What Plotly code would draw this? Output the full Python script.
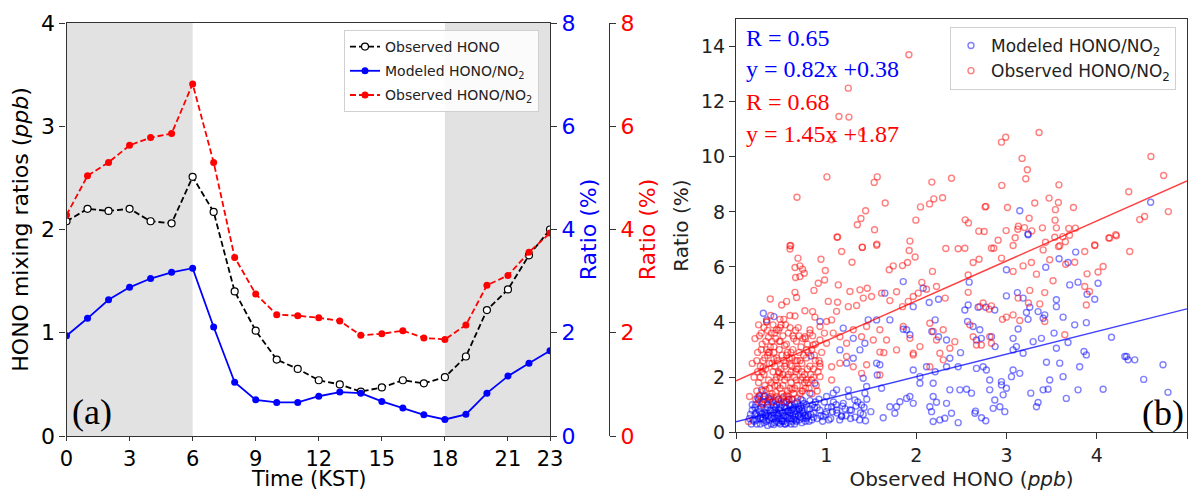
import plotly.graph_objects as go

# ---------------- Panel (a) data ----------------
hours = list(range(24))
obs_hono = [2.08, 2.20, 2.18, 2.20, 2.08, 2.06, 2.51, 2.17, 1.40, 1.02, 0.74, 0.65,
            0.54, 0.50, 0.43, 0.47, 0.54, 0.51, 0.57, 0.77, 1.22, 1.42, 1.75, 2.00]
mod_ratio = [1.94, 2.28, 2.64, 2.88, 3.05, 3.17, 3.25, 2.11, 1.04, 0.70, 0.65, 0.65,
             0.77, 0.85, 0.83, 0.67, 0.54, 0.41, 0.32, 0.42, 0.83, 1.16, 1.41, 1.65]
obs_ratio = [4.28, 5.04, 5.30, 5.63, 5.78, 5.86, 6.82, 5.30, 3.46, 2.75, 2.35, 2.33,
             2.29, 2.23, 1.95, 1.98, 2.04, 1.90, 1.87, 2.15, 2.92, 3.11, 3.56, 3.93]
night_spans = [(0, 6), (18, 23)]
x_ticks_a = [0, 3, 6, 9, 12, 15, 18, 21, 23]

# ---------------- Panel (b) data ----------------
red_x = [1.917, 1.245, 1.141, 1.252, 1.392, 1.06, 3.36, 2.943, 2.99, 3.172, 4.6, 3.23, 1.008, 1.566,
         1.532, 2.171, 2.389, 2.947, 3.213, 3.58, 4.741, 0.676, 1.654, 2.146, 2.193, 2.29, 3.471,
         3.574, 4.354, 1.437, 2.045, 2.762, 2.77, 3.01, 3.312, 3.541, 3.741, 4.793, 1.385, 1.345,
         1.994, 2.541, 2.577, 3.25, 3.537, 4.476, 4.53, 1.536, 2.692, 2.751, 2.995, 3.124, 3.13,
         3.198, 3.279, 3.397, 3.552, 3.689, 3.763, 3.623, 3.697, 4.133, 4.21, 3.651, 1.126, 2.906,
         3.095, 3.431, 3.978, 0.606, 1.4, 1.562, 1.928, 2.537, 2.858, 3.575,
         0.598, 0.598, 0.687, 0.654, 0.709, 0.738, 0.757, 0.661, 0.709, 0.942, 0.99, 0.982, 0.912,
         0.864, 0.654, 0.672, 0.38, 0.506, 0.561, 0.34, 0.384, 0.487, 0.487, 0.45, 0.598, 0.654,
         0.764, 0.849, 0.875, 1.126, 1.115, 1.171, 1.12, 1.286, 1.4, 1.559, 1.699, 1.743, 1.846,
         1.92, 1.902, 1.986, 2.06, 2.178, 2.326, 2.463, 2.574, 2.629, 2.695, 2.832, 2.943, 3.072,
         3.072, 3.183, 3.275, 3.331, 3.405, 3.478, 3.534, 3.589, 3.655, 3.755, 3.866, 3.977, 4.07,
         4.014, 3.892, 4.365, 4.217, 4.143, 3.515, 3.423, 3.257, 3.128, 3.242, 3.368, 3.423, 3.146,
         3.072, 2.998, 2.954, 3.866, 3.884, 3.92, 3.645, 2.574, 2.592, 2.74, 2.832, 2.806, 2.703,
         2.319, 2.223, 2.112, 2.02, 1.965, 1.91, 1.846, 1.78, 1.706, 1.614, 1.503, 1.455, 1.374,
         1.411, 1.337, 1.263, 1.245, 1.134, 1.023, 1.06, 1.004, 0.931, 0.82, 0.764, 0.857, 0.783,
         0.931, 1.004, 1.078, 1.152, 1.226, 1.3, 1.392, 1.448, 1.522, 1.595, 1.669, 1.78, 1.854,
         1.928, 1.965, 2.039, 2.149, 2.186, 2.223, 2.26, 2.297, 2.371, 2.426, 2.629, 2.666, 2.72,
         2.813, 2.832, 1.595, 1.639, 1.448, 1.392, 1.3, 1.226, 1.152, 1.06, 1.06, 0.931, 0.931,
         0.838, 1.595, 2.149, 2.297, 1.965,
         0.22, 0.25, 0.27, 0.28, 0.30, 0.31, 0.32, 0.33, 0.35, 0.36, 0.37, 0.38, 0.39, 0.40, 0.41,
         0.42, 0.43, 0.44, 0.45, 0.46, 0.47, 0.48, 0.49, 0.50, 0.51, 0.52, 0.53, 0.54, 0.55, 0.56,
         0.57, 0.58, 0.59, 0.60, 0.61, 0.62, 0.63, 0.64, 0.65, 0.66, 0.67, 0.68, 0.69, 0.70, 0.72,
         0.73, 0.74, 0.76, 0.78, 0.80, 0.82, 0.84, 0.86, 0.88, 0.24, 0.26, 0.29, 0.34, 0.41, 0.47,
         0.53, 0.58, 0.29, 0.35, 0.45, 0.55, 0.63, 0.71, 0.77, 0.20, 0.23, 0.37, 0.43, 0.49, 0.57,
         0.61, 0.67, 0.73, 0.79, 0.85, 0.31, 0.52, 0.40, 0.66, 0.91, 0.95, 0.98, 0.15, 0.18, 0.137,
         0.26, 0.33, 0.39, 0.44, 0.50, 0.56, 0.62, 0.68, 0.74, 0.30, 0.36, 0.42, 0.48, 0.54, 0.60,
         0.21, 0.23, 0.25, 0.27, 0.29, 0.31, 0.33, 0.35, 0.37, 0.39, 0.41, 0.43, 0.45, 0.47, 0.49,
         0.51, 0.53, 0.55, 0.57, 0.59, 0.61, 0.63, 0.65, 0.67, 0.69, 0.71, 0.73, 0.75, 0.77, 0.79,
         0.81, 0.83, 0.87, 0.89, 0.93,
         0.24, 0.28, 0.32, 0.36, 0.40, 0.44, 0.48, 0.52, 0.56, 0.60, 0.64, 0.68, 0.72, 0.76, 0.80,
         0.84, 0.88, 0.92, 0.26, 0.30, 0.34, 0.38, 0.42, 0.46, 0.50, 0.54, 0.58, 0.62, 0.66, 0.70,
         0.74, 0.78, 0.82, 0.86, 0.90]
red_y = [13.70, 12.49, 11.46, 11.44, 10.86, 10.62, 10.88, 10.53, 10.71, 9.94, 10.01, 9.53, 9.27, 9.27,
         9.07, 9.08, 9.22, 8.96, 9.2, 8.98, 9.32, 8.53, 8.32, 8.29, 8.47, 8.51, 8.5,
         8.34, 8.73, 8.04, 8.18, 8.18, 8.2, 8.16, 8.32, 8.08, 8.16, 8.01, 7.76, 7.53,
         7.70, 7.71, 7.6, 7.77, 7.7, 7.72, 7.83, 7.35, 7.3, 7.29, 7.32, 7.37, 7.48,
         7.43, 7.31, 7.42, 7.42, 7.4, 7.41, 7.1, 7.15, 7.05, 7.17, 6.92, 7.09, 6.97,
         7.06, 6.9, 6.78, 6.78, 6.72, 6.83, 6.94, 6.68, 6.68, 6.74,
         6.77, 6.65, 6.32, 5.98, 6.04, 5.92, 5.77, 5.62, 5.65, 6.28, 5.87, 5.53, 5.41,
         5.15, 5.08, 4.89, 4.84, 4.62, 4.75, 4.02, 4.24, 4.1, 3.80, 3.72, 4.24, 4.22,
         4.41, 4.38, 4.18, 4.72, 4.39, 6.56, 7.08, 6.17, 6.71, 6.79, 5.9, 6.04, 6.05,
         6.6, 6.16, 6.36, 5.44, 5.84, 6.67, 6.66, 5.71, 6.16, 6.28, 6.68, 6.32, 6.78,
         5.84, 6.04, 6.16, 5.74, 6.62, 6.26, 7.08, 6.77, 6.10, 6.17, 6.56, 6.8, 6.02,
         5.82, 5.75, 6.56, 7.13, 7.05, 5.5, 5.07, 5.15, 4.87, 4.69, 4.66, 4.02, 4.06,
         4.26, 4.18, 4.10, 5.29, 4.62, 5.11, 3.54, 5.08, 3.9, 4.69, 4.59, 4.47, 4.56,
         4.87, 5.29, 5.19, 5.05, 4.93, 4.75, 4.56, 5.1, 4.78, 5.05, 4.93, 5.23, 5.17,
         4.87, 4.6, 5.11, 4.56, 5.35, 4.75, 4.08, 4.02, 3.84, 3.72, 3.47, 3.17, 2.99,
         3.35, 3.23, 3.6, 3.47, 3.23, 3.72, 3.47, 3.84, 3.35, 3.72, 3.35, 2.99, 3.84,
         3.41, 2.87, 3.11, 3.96, 3.66, 3.35, 2.87, 3.72, 3.05, 3.29, 3.47, 3.17, 3.17,
         3.47, 3.23, 2.91, 2.89, 2.45, 2.14, 2.38, 2.75, 2.51, 2.38, 1.9, 2.38, 2.02,
         1.9, 2.08, 2.38, 2.63, 2.81,
         1.2, 1.8, 2.4, 3.0, 1.5, 2.1, 2.7, 3.3, 1.1, 1.9, 2.5, 3.1, 3.6, 1.4, 2.2,
         2.9, 1.7, 3.4, 2.0, 2.6, 1.2, 3.0, 1.6, 2.3, 2.8, 3.5, 1.3, 1.9, 2.5, 3.2,
         1.5, 2.1, 2.7, 3.8, 1.8, 2.4, 3.0, 1.4, 2.0, 2.6, 3.3, 1.7, 2.3, 2.9, 1.9,
         2.5, 3.4, 2.1, 2.7, 1.8, 2.4, 3.0, 2.0, 2.6, 2.9, 3.5, 1.0, 4.0, 3.9, 3.7,
         4.1, 3.6, 2.2, 2.8, 1.3, 1.1, 1.2, 1.4, 1.6, 2.0, 2.6, 1.6, 2.4, 2.0, 2.9,
         2.2, 1.9, 2.2, 3.2, 3.5, 3.8, 1.7, 3.3, 3.7, 2.2, 2.9, 3.6, 1.3, 2.5, 0.39,
         1.35, 1.55, 1.25, 1.45, 1.15, 1.35, 1.55, 1.25, 1.5, 2.35, 3.45, 2.65, 2.15, 3.15, 2.45,
         3.4, 1.5, 3.9, 2.0, 3.2, 1.2, 2.3, 3.7, 2.9, 1.8, 1.1, 3.6, 2.7, 2.2, 3.3,
         1.4, 2.6, 3.9, 2.0, 1.2, 2.9, 3.5, 1.6, 2.3, 3.8, 2.6, 1.5, 2.8, 3.4, 2.3,
         1.6, 2.1, 2.8, 1.7, 2.5,
         2.2, 3.6, 1.7, 2.9, 2.5, 1.9, 3.3, 2.1, 2.8, 1.6, 3.4, 2.6, 3.1, 1.8, 2.9,
         1.4, 3.2, 2.6, 1.1, 2.6, 3.0, 1.3, 3.1, 1.7, 3.9, 2.4, 1.3, 2.7, 2.2, 3.5,
         2.0, 1.9, 3.6, 2.3, 1.5]

blue_x = [3.146, 3.238, 4.597, 3.238, 3.766, 3.681, 3.434, 3.582, 3.7, 4.014, 3.892, 3.977, 3.792,
          2.585, 2.998, 2.998, 3.12, 3.183, 3.257, 3.22, 3.238, 3.349, 3.405, 3.423, 3.552, 3.552,
          3.626, 3.128, 3.072, 3.109, 3.072, 3.183, 3.294, 3.386, 3.442, 3.526, 3.552, 3.589, 3.681,
          3.755, 3.81, 3.884, 3.858, 3.884, 3.792, 3.662, 3.626, 3.478, 3.405, 3.46, 3.349, 3.331,
          3.268, 3.146, 3.072, 3.054, 4.07, 4.163, 4.311, 4.347, 4.421, 4.52, 4.734, 4.789, 4.33,
          2.998, 2.943, 2.943, 2.962, 2.925, 2.98, 2.869, 2.851, 2.813, 2.813, 2.776, 2.74, 2.873,
          2.832, 2.72, 2.666, 2.629, 2.567, 2.537, 2.574, 2.684, 2.769, 2.869, 2.703, 2.489, 2.334,
          2.371, 2.245, 2.171, 2.208, 2.245, 2.142, 2.075, 1.965, 1.891, 1.928, 1.854, 1.854, 1.65,
          1.706, 1.559, 1.965, 2.039, 2.112, 2.208, 2.334, 2.463, 2.666, 2.482, 2.556, 2.611, 2.371,
          2.186, 2.334, 2.389, 2.186, 2.223, 2.149, 2.168, 2.039, 1.928, 1.891, 1.965, 1.817, 1.78,
          1.706, 1.761, 1.614, 1.632, 1.566, 1.595, 1.559, 2.186, 2.26, 2.315, 2.463, 2.648, 2.722,
          2.769, 2.655, 1.495, 1.436, 1.41, 1.448, 1.429, 1.392, 1.318, 1.263, 1.245, 1.189, 1.171,
          1.115, 1.06, 1.004, 0.968, 1.004, 1.078, 1.115, 1.226, 1.152, 1.3, 1.374, 1.429, 1.466,
          1.3, 1.189, 0.931, 0.83, 0.875, 0.82, 0.303, 0.34, 0.421, 0.284, 0.321,
          0.15, 0.18, 0.20, 0.22, 0.24, 0.25, 0.27, 0.28, 0.30, 0.31, 0.32, 0.34, 0.35, 0.36, 0.38,
          0.39, 0.40, 0.41, 0.42, 0.44, 0.45, 0.46, 0.47, 0.48, 0.49, 0.50, 0.51, 0.52, 0.53, 0.54,
          0.55, 0.56, 0.57, 0.58, 0.59, 0.60, 0.61, 0.62, 0.63, 0.64, 0.65, 0.66, 0.67, 0.68, 0.70,
          0.71, 0.72, 0.74, 0.75, 0.77, 0.78, 0.80, 0.82, 0.84, 0.86, 0.88, 0.90, 0.93, 0.96, 0.99,
          0.26, 0.29, 0.33, 0.37, 0.43, 0.47, 0.53, 0.57, 0.61, 0.65, 0.69, 0.73, 0.79, 0.30, 0.44,
          0.52, 0.62, 0.74, 0.85, 0.92, 1.02, 1.05, 1.08, 1.12, 1.15, 1.18, 1.22, 1.25, 1.28, 1.32,
          1.35, 1.38, 1.42, 1.45, 0.17, 0.21, 0.23, 0.35, 0.42, 0.55, 0.48,
          0.27, 0.33, 0.38, 0.45, 0.51, 0.58, 0.64, 0.70, 0.76, 0.43, 0.56, 0.66,
          0.16, 0.19, 0.21, 0.23, 0.25, 0.27, 0.29, 0.31, 0.33, 0.35, 0.37, 0.39, 0.41, 0.43, 0.45,
          0.47, 0.49, 0.51, 0.53, 0.55, 0.57, 0.59, 0.61, 0.63, 0.65, 0.67, 0.69, 0.71, 0.73, 0.75,
          0.77, 0.79, 0.81, 0.83, 0.87,
          0.18, 0.22, 0.26, 0.30, 0.34, 0.38, 0.42, 0.46, 0.50, 0.54, 0.58, 0.62, 0.66, 0.70, 0.74,
          0.78, 0.82, 0.86, 0.90, 0.94, 0.98, 1.03, 1.07, 1.11, 1.17, 1.21, 1.27, 1.33, 1.37, 1.41,
          0.24, 0.36, 0.48, 0.60, 0.72]
blue_y = [8.04, 7.17, 8.35, 7.2, 6.54, 6.16, 5.99, 6.3, 5.35, 5.41, 5.01, 4.83, 5.45,
          5.45, 5.9, 4.95, 5.07, 4.87, 4.54, 4.35, 4.1, 4.38, 4.14, 4.26, 4.81, 4.56,
          4.18, 3.75, 3.41, 3.11, 2.99, 2.87, 3.29, 3.41, 2.54, 3.6, 3.05, 2.51, 3.26,
          3.9, 2.38, 3.98, 2.93, 2.81, 1.54, 1.23, 2.02, 1.9, 1.54, 1.56, 1.08, 0.93,
          1.42, 2.14, 2.26, 2.02, 1.56, 3.45, 2.75, 2.63, 2.63, 1.92, 2.45, 1.45, 2.75,
          1.6, 1.84, 1.72, 1.36, 0.93, 0.75, 1.17, 0.87, 1.9, 1.54, 2.26, 2.38, 3.11,
          3.47, 3.41, 3.35, 3.84, 4.02, 4.44, 4.62, 4.54, 4.54, 4.44, 3.72, 2.89, 3.35,
          2.69, 3.47, 3.66, 4.08, 4.83, 4.71, 5.23, 4.56, 3.72, 3.54, 3.74, 5.47, 5.05,
          4.08, 4.08, 2.26, 2.02, 2.38, 2.2, 2.38, 2.38, 2.32, 1.54, 1.56, 1.42, 1.54,
          1.78, 1.05, 0.69, 1.3, 1.09, 0.93, 0.75, 1.78, 1.3, 1.23, 1.05, 1.11, 0.93,
          0.93, 0.69, 1.6, 0.53, 2.08, 2.45, 2.51, 0.39, 0.45, 0.51, 0.35, 0.69, 0.53,
          0.42, 0.77, 0.75, 0.42, 1.96, 1.66, 1.42, 0.99, 1.17, 0.81, 1.54, 1.05, 0.57,
          0.81, 0.93, 0.75, 0.57, 1.3, 1.42, 1.54, 2.51, 2.99, 2.69, 2.99, 3.23, 4.08,
          3.41, 3.78, 4.02, 2.77, 1.78, 1.42, 4.32, 4.08, 4.2, 1.54, 1.32,
          0.5, 0.8, 0.4, 1.0, 0.6, 1.2, 0.3, 0.9, 0.5, 1.3, 0.7, 0.4, 1.0, 0.6, 0.8,
          0.3, 1.1, 0.5, 0.7, 0.9, 0.4, 0.6, 1.2, 0.8, 0.3, 0.5, 1.0, 0.7, 0.4, 0.9,
          0.6, 1.1, 0.35, 0.8, 0.5, 0.7, 1.0, 0.4, 0.6, 0.9, 0.3, 0.55, 0.8, 1.1, 0.45,
          0.7, 0.95, 0.5, 0.75, 0.4, 1.0, 0.6, 0.85, 0.45, 0.7, 1.1, 0.5, 0.8, 0.4, 0.65,
          0.75, 0.65, 0.85, 0.45, 0.55, 0.35, 0.6, 0.75, 0.5, 0.75, 0.6, 0.35, 0.55, 1.1, 1.15,
          1.25, 1.2, 1.15, 1.0, 1.2, 0.9, 0.5, 1.1, 0.7, 0.45, 0.95, 0.6, 1.3, 0.8, 0.55,
          1.1, 0.7, 0.9, 1.2, 0.3, 0.65, 0.45, 0.25, 0.28, 0.3, 0.48,
          0.55, 0.62, 0.52, 0.72, 0.42, 0.62, 0.48, 0.82, 0.62, 0.82, 0.88, 0.66,
          0.65, 0.45, 0.9, 0.3, 0.85, 0.5, 1.05, 0.35, 0.6, 0.9, 1.15, 0.55, 0.8, 0.35, 1.0,
          0.65, 0.9, 0.4, 1.1, 0.75, 0.55, 1.0, 0.3, 0.85, 1.05, 0.4, 0.95, 0.55, 0.8, 1.05,
          0.6, 0.85, 0.4, 0.65, 0.9,
          1.0, 0.7, 1.3, 0.45, 0.7, 1.2, 0.95, 0.5, 0.75, 0.3, 1.2, 0.8, 0.45, 0.85, 0.7,
          0.5, 1.15, 0.55, 0.9, 0.6, 1.1, 0.45, 0.75, 1.0, 0.6, 0.85, 0.5, 0.95, 0.45, 0.65,
          1.25, 1.25, 1.05, 0.95, 1.2]

fit_x_range = [0, 5]
mod_fit = {"slope": 0.82, "intercept": 0.38, "R": 0.65}
obs_fit = {"slope": 1.45, "intercept": 1.87, "R": 0.68}

FONT = "DejaVu Sans"
SERIF = "Liberation Serif"
AX = "#333333"

fig = go.Figure()

# ---- Panel (a) traces ----
fig.add_trace(go.Scatter(
    x=hours, y=obs_hono, name="Observed HONO", mode="lines+markers",
    line=dict(color="black", width=1.8, dash="6px,3px"),
    marker=dict(symbol="circle", size=7, color="white", line=dict(color="black", width=1.2)),
    xaxis="x", yaxis="y", legend="legend", legendgroup="a1"))
fig.add_trace(go.Scatter(
    x=hours, y=mod_ratio, name="Modeled HONO/NO<sub>2</sub>", mode="lines+markers",
    line=dict(color="#0000ff", width=1.8),
    marker=dict(symbol="circle", size=7, color="#0000ff"),
    xaxis="x", yaxis="y2", legend="legend", legendgroup="a2"))
fig.add_trace(go.Scatter(
    x=hours, y=obs_ratio, name="Observed HONO/NO<sub>2</sub>", mode="lines+markers",
    line=dict(color="#ff0000", width=1.8, dash="6px,3px"),
    marker=dict(symbol="circle", size=7, color="#ff0000"),
    xaxis="x", yaxis="y3", legend="legend", legendgroup="a3"))

# ---- Panel (b) traces ----
fig.add_trace(go.Scatter(
    x=blue_x, y=blue_y, name="Modeled HONO/NO<sub>2</sub>", mode="markers",
    marker=dict(symbol="circle-open", size=6, color="rgba(0,0,255,0.5)", line=dict(width=1.4)),
    xaxis="x2", yaxis="y4", legend="legend2"))
fig.add_trace(go.Scatter(
    x=red_x, y=red_y, name="Observed HONO/NO<sub>2</sub>", mode="markers",
    marker=dict(symbol="circle-open", size=6, color="rgba(255,0,0,0.5)", line=dict(width=1.4)),
    xaxis="x2", yaxis="y4", legend="legend2"))

for fit, col in [(mod_fit, "rgba(0,0,255,0.75)"), (obs_fit, "rgba(255,0,0,0.75)")]:
    fx = fit_x_range
    fy = [fit["slope"] * v + fit["intercept"] for v in fx]
    fig.add_trace(go.Scatter(x=fx, y=fy, mode="lines", line=dict(color=col, width=1.4),
                             showlegend=False, xaxis="x2", yaxis="y4", hoverinfo="skip"))

shapes = []
for a, b in night_spans:
    shapes.append(dict(type="rect", xref="x", yref="y domain", x0=a, x1=b, y0=0, y1=1,
                       fillcolor="#e2e2e2", line=dict(width=0), layer="below"))

common_ax = dict(showline=True, linecolor=AX, linewidth=1.2, ticks="outside", ticklen=6,
                 tickwidth=1.2, tickcolor=AX, showgrid=False, zeroline=False, automargin=False)
xa_ax = dict(common_ax, ticklen=4)

annotations = [
    dict(text="R = %.2f" % mod_fit["R"], x=0.6236, y=1 - 38 / 493, xref="paper", yref="paper",
         xanchor="left", yanchor="middle", showarrow=False, font=dict(family=SERIF, size=24, color="#0000ff")),
    dict(text="y = %.2fx +%.2f" % (mod_fit["slope"], mod_fit["intercept"]), x=0.6236, y=1 - 69 / 493,
         xref="paper", yref="paper", xanchor="left", yanchor="middle", showarrow=False,
         font=dict(family=SERIF, size=24, color="#0000ff")),
    dict(text="R = %.2f" % obs_fit["R"], x=0.6236, y=1 - 102 / 493, xref="paper", yref="paper",
         xanchor="left", yanchor="middle", showarrow=False, font=dict(family=SERIF, size=24, color="#ff0000")),
    dict(text="y = %.2fx +%.2f" % (obs_fit["slope"], obs_fit["intercept"]), x=0.6236, y=1 - 134 / 493,
         xref="paper", yref="paper", xanchor="left", yanchor="middle", showarrow=False,
         font=dict(family=SERIF, size=24, color="#ff0000")),
    dict(text="(a)", x=92 / 1193, y=1 - 412 / 493, xref="paper", yref="paper", xanchor="center",
         yanchor="middle", showarrow=False, font=dict(family=SERIF, size=36, color="black")),
    dict(text="(b)", x=1163 / 1193, y=1 - 413 / 493, xref="paper", yref="paper", xanchor="center",
         yanchor="middle", showarrow=False, font=dict(family=SERIF, size=36, color="black")),
    dict(text="Time (KST)", x=308 / 1193, y=1 - 479 / 493, xref="paper", yref="paper", xanchor="center",
         yanchor="middle", showarrow=False, font=dict(family=FONT, size=21, color="black")),
]

fig.update_layout(
    width=1193, height=493,
    margin=dict(l=0, r=0, t=0, b=0),
    paper_bgcolor="white", plot_bgcolor="rgba(0,0,0,0)",
    font=dict(family=FONT, color="black"),
    shapes=shapes, annotations=annotations,
    xaxis=dict(domain=[66.5 / 1193, 550 / 1193], range=[0, 23], anchor="y", tickvals=x_ticks_a,
               mirror=True, tickfont=dict(size=21), **xa_ax),
    yaxis=dict(domain=[1 - 436 / 493, 1 - 23 / 493], range=[0, 4], anchor="x", dtick=1,
               tickfont=dict(size=22), title=dict(text="HONO mixing ratios (<i>ppb</i>)", font=dict(size=22), standoff=6),
               **common_ax),
    yaxis2=dict(range=[0, 8], overlaying="y", side="right", anchor="x", dtick=2,
                tickfont=dict(size=22, color="#0000ff"),
                title=dict(text="Ratio (%)", font=dict(size=22, color="#0000ff"), standoff=6),
                **common_ax),
    yaxis3=dict(range=[0, 8], overlaying="y", side="right", anchor="free", position=609 / 1193, dtick=2,
                tickfont=dict(size=22, color="#ff0000"),
                title=dict(text="Ratio (%)", font=dict(size=22, color="#ff0000"), standoff=6),
                **common_ax),
    xaxis2=dict(domain=[736 / 1193, 1187 / 1193], range=[0, 5], anchor="y4", dtick=1, mirror=True,
                tickfont=dict(size=19, color="#222"),
                title=dict(text="Observed HONO (<i>ppb</i>)", font=dict(size=20, color="#222"), standoff=6),
                **common_ax),
    yaxis4=dict(domain=[1 - 432.3 / 493, 1 - 19 / 493], range=[0, 15], anchor="x2", tickvals=[0, 2, 4, 6, 8, 10, 12, 14],
                mirror=True, tickfont=dict(size=19, color="#222"),
                title=dict(text="Ratio (%)", font=dict(size=20, color="#222"), standoff=6),
                **common_ax),
    legend=dict(x=344 / 1193, y=1 - 30 / 493, xanchor="left", yanchor="top",
                bgcolor="rgba(255,255,255,0.85)", bordercolor="#d0d0d0", borderwidth=1,
                font=dict(size=14, color="#222"), tracegroupgap=3, itemwidth=30),
    legend2=dict(x=950 / 1193, y=1 - 27 / 493, xanchor="left", yanchor="top",
                 bgcolor="rgba(255,255,255,0.85)", bordercolor="#d0d0d0", borderwidth=1,
                 font=dict(size=17, color="#222"), itemwidth=30),
)

fig.write_html("out.html", config={"displayModeBar": False},
               post_script="document.body.style.margin='0';document.body.style.overflow='hidden';")
